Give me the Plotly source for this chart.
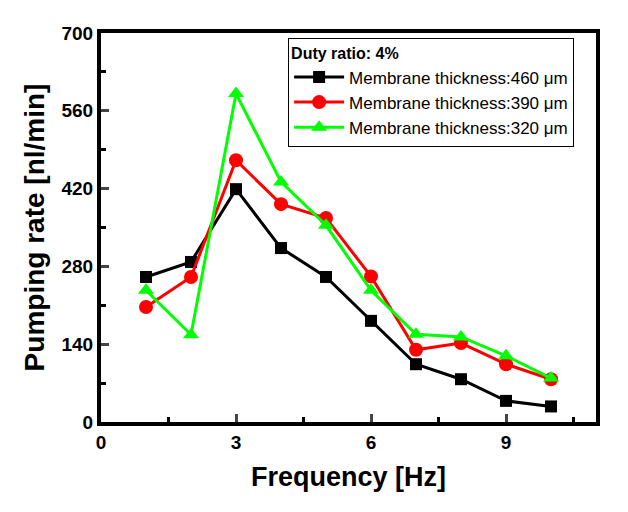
import plotly.graph_objects as go

freq = [1, 2, 3, 4, 5, 6, 7, 8, 9, 10]
rate_460 = [261, 288, 419, 313, 261, 182, 104, 77, 38, 28]
rate_390 = [207, 261, 471, 392, 367, 262, 130, 142, 104, 77]
rate_320 = [237, 157, 591, 432, 354, 237, 158, 153, 119, 79]
names = ["Membrane thickness:460 μm", "Membrane thickness:390 μm", "Membrane thickness:320 μm"]
colors = ["#000000", "#ff0000", "#00ff00"]
symbols = ["square", "circle", "triangle-up"]
sizes = [12, 14, 14]
xticks = [0, 3, 6, 9]
yticks = [0, 140, 280, 420, 560, 700]

fig = go.Figure()
for ys, nm, c, s, sz in zip([rate_460, rate_390, rate_320], names, colors, symbols, sizes):
    fig.add_trace(go.Scatter(x=freq, y=ys, name=nm, mode="lines+markers",
                             line=dict(color=c, width=3),
                             marker=dict(symbol=s, size=sz, color=c)))

font = "Liberation Sans, Arial, sans-serif"
fig.update_layout(
    width=628, height=512,
    margin=dict(l=101, r=32, t=33, b=90),
    plot_bgcolor="white", paper_bgcolor="white",
    font=dict(family=font, color="black"),
    showlegend=True,
    legend=dict(x=0.378, y=0.988, xanchor="left", yanchor="top",
                bordercolor="black", borderwidth=1, bgcolor="white",
                font=dict(size=17, family=font),
                title=dict(text="<b>Duty ratio: 4%</b>", font=dict(size=16)),
                tracegroupgap=0, itemwidth=50),
    xaxis=dict(range=[0, 11], tickvals=xticks, ticktext=[f"<b>{v}</b>" for v in xticks],
               ticks="inside", ticklen=8, tickwidth=3,
               showline=True, linewidth=4, linecolor="black", mirror=True, showgrid=False, zeroline=False,
               tickfont=dict(size=19, family=font),
               title=dict(text="<b>Frequency [Hz]</b>", font=dict(size=27), standoff=16),
               minor=dict(tickvals=[1.5, 4.5, 7.5, 10.5], ticks="inside", ticklen=5, tickwidth=3, tickcolor="black")),
    yaxis=dict(range=[0, 700], tickvals=yticks, ticktext=[f"<b>{v}</b>" for v in yticks],
               ticks="inside", ticklen=8, tickwidth=3,
               showline=True, linewidth=4, linecolor="black", mirror=True, showgrid=False, zeroline=False,
               tickfont=dict(size=19, family=font),
               title=dict(text="<b>Pumping rate [nl/min]</b>", font=dict(size=28), standoff=10),
               minor=dict(tickvals=[70, 210, 350, 490, 630], ticks="inside", ticklen=5, tickwidth=3, tickcolor="black")),
)
fig.write_html("out.html")
